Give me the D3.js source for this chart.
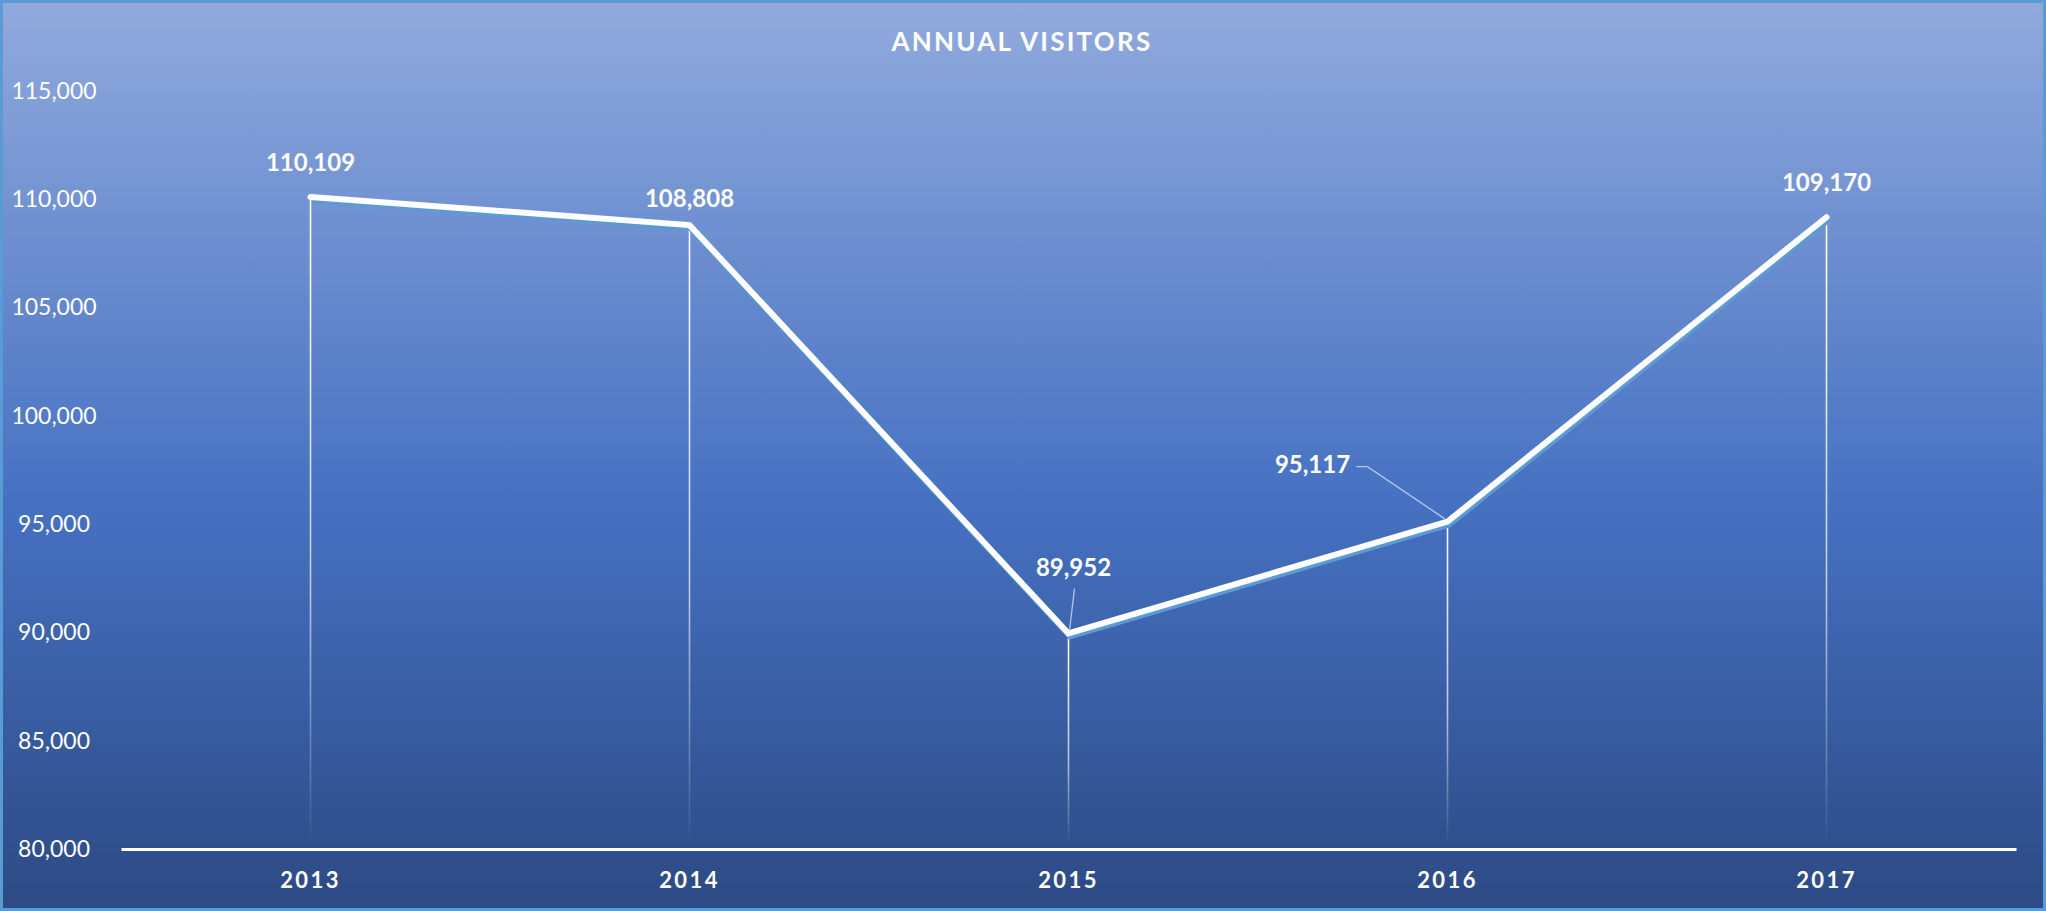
<!DOCTYPE html>
<html>
<head>
<meta charset="utf-8">
<script src="https://cdn.jsdelivr.net/npm/d3@7"></script>
<style>
html,body{margin:0;padding:0;background:#fff;}
svg{display:block;}
text{font-family:Lato,"Open Sans",sans-serif;fill:#fff;}
</style>
</head>
<body>
<svg id="chart" width="2046" height="911"></svg>
<script>
const years = ["2013","2014","2015","2016","2017"];
const visitors = [110109, 108808, 89952, 95117, 109170];
const yTicks = [80000, 85000, 90000, 95000, 100000, 105000, 110000, 115000];
const title = "ANNUAL VISITORS";

const W = 2046, H = 911;
const svg = d3.select("#chart");
const defs = svg.append("defs");

const bg = defs.append("linearGradient").attr("id","bg").attr("x1",0).attr("y1",0).attr("x2",0).attr("y2",1);
bg.append("stop").attr("offset","0%").attr("stop-color","#91AADD");
bg.append("stop").attr("offset","55%").attr("stop-color","#4671C2");
bg.append("stop").attr("offset","100%").attr("stop-color","#2C4A84");

const drop = defs.append("linearGradient").attr("id","drop").attr("x1",0).attr("y1",0).attr("x2",0).attr("y2",1);
drop.append("stop").attr("offset","0%").attr("stop-color","#fff").attr("stop-opacity",1);
drop.append("stop").attr("offset","60%").attr("stop-color","#fff").attr("stop-opacity",0.65);
drop.append("stop").attr("offset","100%").attr("stop-color","#fff").attr("stop-opacity",0.03);

svg.append("rect").attr("x",1.5).attr("y",1.5).attr("width",W-3).attr("height",H-3)
  .attr("fill","url(#bg)").attr("stroke","#5B9BD5").attr("stroke-width",3);

const x = d3.scaleBand().domain(years).range([121, 2016]);
const y = d3.scaleLinear().domain([80000,115000]).range([849, 91]);
const fmt = d3.format(",");

// title
svg.append("text").attr("x", 1022).attr("y", 51).attr("text-anchor","middle")
  .attr("font-size",26).attr("font-weight","bold").attr("letter-spacing","2.2px").text(title);

// y axis labels
const yAxis = svg.append("g").attr("transform","translate(121,0)")
  .call(d3.axisLeft(y).tickValues(yTicks).tickSize(0).tickFormat(fmt));
yAxis.select(".domain").remove();
yAxis.selectAll("text").attr("x",-67).attr("text-anchor","middle")
  .attr("font-size",23).attr("fill","#fff").style("font-family","Lato,'Open Sans',sans-serif");

// drop lines
const cx = d => x(d) + x.bandwidth()/2;
svg.append("g").selectAll("rect").data(years).join("rect")
  .attr("x", (d,i) => cx(d) - 0.8)
  .attr("y", (d,i) => y(visitors[i]))
  .attr("width", 1.6)
  .attr("height", (d,i) => y(80000) - 8 - y(visitors[i]))
  .attr("fill","url(#drop)");

// x axis line
const xAxis = svg.append("g").attr("transform",`translate(0,${y(80000)})`)
  .call(d3.axisBottom(x).tickSize(0).tickPadding(23));
xAxis.select(".domain").attr("stroke","#fff").attr("stroke-width",3);
xAxis.selectAll("text").attr("font-size",22).attr("font-weight","bold").attr("letter-spacing","2.4px")
  .attr("fill","#fff").style("font-family","Lato,'Open Sans',sans-serif");

// line
const line = d3.line().x((d,i) => cx(years[i])).y(d => y(d));
svg.append("path").datum(visitors).attr("d", line).attr("fill","none")
  .attr("stroke","#5B9BD5").attr("stroke-width",6).attr("transform","translate(1.5,3)")
  .attr("stroke-linejoin","miter");
svg.append("path").datum(visitors).attr("d", line).attr("fill","none")
  .attr("stroke","#fff").attr("stroke-width",6).attr("stroke-linecap","round")
  .attr("stroke-linejoin","miter");

// data labels
const labelPos = [
  {dx:0, dy:-32},
  {dx:0, dy:-24},
  {dx:5, dy:-64},
  {dx:-135, dy:-55},
  {dx:0, dy:-32}
];
svg.append("g").selectAll("text").data(visitors).join("text")
  .attr("x",(d,i) => cx(years[i]) + labelPos[i].dx)
  .attr("y",(d,i) => y(d) + labelPos[i].dy)
  .attr("text-anchor","middle").attr("dominant-baseline","middle")
  .attr("font-size",24).attr("font-weight","bold").text(d => fmt(d));

// leader lines
const p2 = [cx(years[2]), y(visitors[2])];
svg.append("path").attr("d", `M${p2[0]+6},${p2[1]-45} L${p2[0]+1},${p2[1]-3}`)
  .attr("stroke","#C9D7EF").attr("stroke-width",1.3).attr("fill","none").attr("opacity",0.85);
const p3 = [cx(years[3]), y(visitors[3])];
svg.append("path").attr("d", `M${p3[0]-91},${p3[1]-55} L${p3[0]-80},${p3[1]-55} L${p3[0]-3},${p3[1]-3}`)
  .attr("stroke","#C9D7EF").attr("stroke-width",1.3).attr("fill","none").attr("opacity",0.85);
</script>
</body>
</html>
